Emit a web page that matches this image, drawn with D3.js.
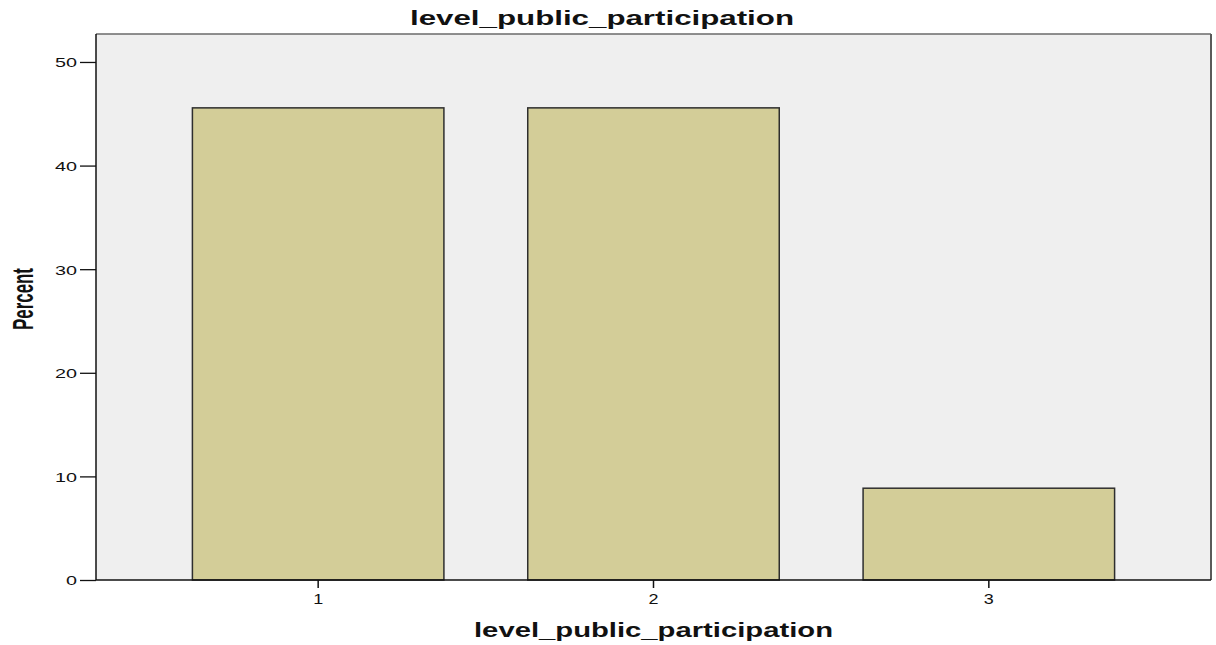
<!DOCTYPE html>
<html>
<head>
<meta charset="utf-8">
<script src="https://cdn.jsdelivr.net/npm/d3@7"></script>
<style>
  html, body { margin: 0; padding: 0; background: #ffffff; }
  svg { display: block; }
  text { font-family: "Liberation Sans", Arial, sans-serif; fill: #111; }
</style>
</head>
<body>
<svg id="chart" width="1216" height="645"></svg>
<script>
// Data
const categories = ["1", "2", "3"];
const percents = [45.57, 45.57, 8.86];
const yTicks = [0, 10, 20, 30, 40, 50];
const titleText = "level_public_participation";
const xLabel = "level_public_participation";
const yLabel = "Percent";

const W = 1216, H = 645;
const plot = { left: 96, right: 1211, top: 34, bottom: 580 };

const svg = d3.select("#chart");

const x = d3.scaleBand()
  .domain(categories)
  .range([plot.left, plot.right])
  .paddingInner(0.25)
  .paddingOuter(0.2875);

const y = d3.scaleLinear()
  .domain([0, 52.7])
  .range([plot.bottom, plot.top]);

// plot background
svg.append("rect")
  .attr("x", plot.left).attr("y", plot.top)
  .attr("width", plot.right - plot.left)
  .attr("height", plot.bottom - plot.top)
  .attr("fill", "#efefef");

// top and right frame (gray with slight shadow)
svg.append("line")
  .attr("x1", plot.left).attr("x2", plot.right)
  .attr("y1", plot.top).attr("y2", plot.top)
  .attr("stroke", "#6a6a6a").attr("stroke-width", 1.5);
svg.append("line")
  .attr("x1", plot.right).attr("x2", plot.right)
  .attr("y1", plot.top).attr("y2", plot.bottom)
  .attr("stroke", "#5a5a5a").attr("stroke-width", 2);

// bars
svg.append("g").selectAll("rect")
  .data(categories)
  .join("rect")
  .attr("x", d => x(d))
  .attr("width", x.bandwidth())
  .attr("y", (d, i) => y(percents[i]))
  .attr("height", (d, i) => y(0) - y(percents[i]))
  .attr("fill", "#d3cd98")
  .attr("stroke", "#2e2e2e")
  .attr("stroke-width", 1.5);

// y axis
const yAxis = svg.append("g")
  .attr("transform", `translate(${plot.left},0)`)
  .call(d3.axisLeft(y).tickValues(yTicks).tickSize(16).tickPadding(3).tickFormat(d3.format("d")));
yAxis.select(".domain").attr("stroke", "#111").attr("stroke-width", 1.5)
  .attr("d", `M0,${plot.top}V${plot.bottom}`);
yAxis.selectAll(".tick line").attr("stroke", "#111").attr("stroke-width", 1.3);
yAxis.selectAll(".tick text")
  .attr("font-size", 13.5)
  .attr("font-family", "Liberation Sans, Arial, sans-serif")
  .attr("fill", "#1a1a1a")
  .attr("dy", "0.36em")
  .attr("textLength", d => String(d).length * 11)
  .attr("lengthAdjust", "spacingAndGlyphs");

// x axis
const xAxis = svg.append("g")
  .attr("transform", `translate(0,${plot.bottom})`)
  .call(d3.axisBottom(x).tickSize(8).tickPadding(4));
xAxis.select(".domain").attr("stroke", "#111").attr("stroke-width", 1.5)
  .attr("d", `M${plot.left},0H${plot.right}`);
xAxis.selectAll(".tick line").attr("stroke", "#111").attr("stroke-width", 1.5);
xAxis.selectAll(".tick text")
  .attr("font-size", 14)
  .attr("font-family", "Liberation Sans, Arial, sans-serif")
  .attr("fill", "#1a1a1a")
  .attr("y", 23.5).attr("dy", "0")
  .attr("textLength", 10)
  .attr("lengthAdjust", "spacingAndGlyphs");

// title
svg.append("text")
  .attr("x", 410).attr("y", 25)
  .attr("font-size", 20.5).attr("font-weight", "bold")
  .attr("textLength", 384).attr("lengthAdjust", "spacingAndGlyphs")
  .text(titleText);

// x axis label
svg.append("text")
  .attr("x", 474).attr("y", 637)
  .attr("font-size", 20.5).attr("font-weight", "bold")
  .attr("textLength", 359).attr("lengthAdjust", "spacingAndGlyphs")
  .text(xLabel);

// y axis label (condensed, rotated)
svg.append("text")
  .attr("transform", "translate(33,330) rotate(-90)")
  .attr("x", 0).attr("y", 0)
  .attr("font-size", 29).attr("font-weight", "bold")
  .attr("textLength", 62).attr("lengthAdjust", "spacingAndGlyphs")
  .text(yLabel);
</script>
</body>
</html>
